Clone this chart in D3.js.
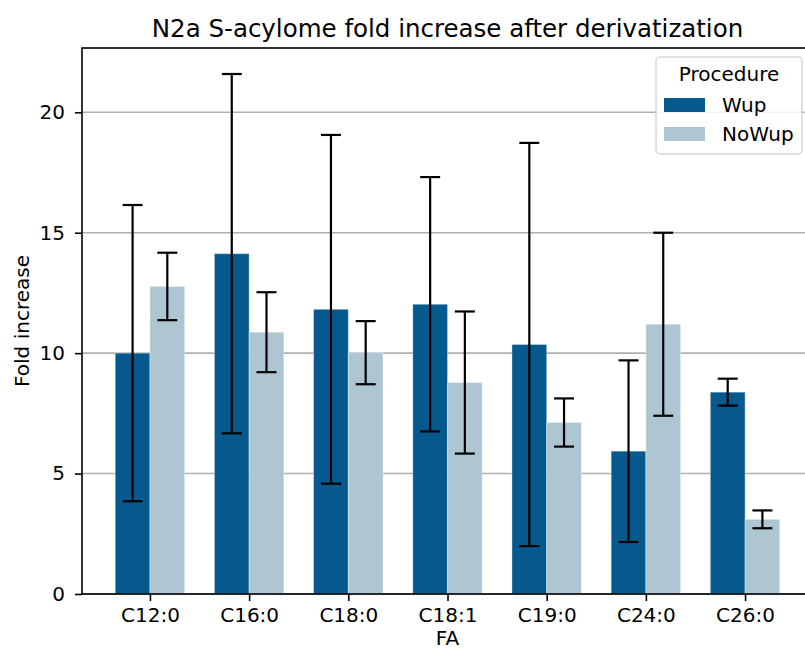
<!DOCTYPE html>
<html>
<head>
<meta charset="utf-8">
<script src="https://cdn.jsdelivr.net/npm/d3@7"></script>
<style>
  html, body { margin: 0; padding: 0; background: #ffffff; }
  svg { display: block; font-family: "DejaVu Sans", sans-serif; }
</style>
</head>
<body>
<svg id="chart" width="805" height="652"></svg>
<script>
// Fatty-acid categories and per-procedure means with symmetric error bars
const categories = ["C12:0", "C16:0", "C18:0", "C18:1", "C19:0", "C24:0", "C26:0"];
const wupValues   = [10.00, 14.13, 11.82, 12.03, 10.36, 5.93, 8.38];
const wupErrors   = [6.15, 7.46, 7.24, 5.28, 8.37, 3.77, 0.56];
const noWupValues = [12.77, 10.87, 10.02, 8.78, 7.12, 11.20, 3.10];
const noWupErrors = [1.40, 1.66, 1.31, 2.95, 1.00, 3.80, 0.37];
const seriesNames = ["Wup", "NoWup"];
const yTicks = [0, 5, 10, 15, 20];

const colors = { Wup: "#05598c", NoWup: "#aec6d1" };
const barWidth = 0.35;

const series = [
  { name: "Wup", values: wupValues, errors: wupErrors, offset: -barWidth },
  { name: "NoWup", values: noWupValues, errors: noWupErrors, offset: 0 }
];

const svg = d3.select("#chart");
const plotLeft = 82, plotRight = 813, plotTop = 48, plotBottom = 594;
const fontSize = "20px";

// x positions are category indices; bars sit either side of each tick
const n = categories.length;
const pad = (n - 1 + 2 * barWidth) * 0.05;
const x = d3.scaleLinear()
  .domain([-barWidth - pad, (n - 1) + barWidth + pad])
  .range([plotLeft, plotRight]);

const maxTop = d3.max(series.flatMap(s => s.values.map((v, i) => v + s.errors[i])));
const y = d3.scaleLinear()
  .domain([0, maxTop * 1.05])
  .range([plotBottom, plotTop]);

// horizontal gridlines behind the bars
svg.append("g")
  .selectAll("line")
  .data(yTicks)
  .join("line")
  .attr("x1", plotLeft).attr("x2", plotRight)
  .attr("y1", d => y(d)).attr("y2", d => y(d))
  .attr("stroke", "#b0b0b0")
  .attr("stroke-width", 1.6);

// bars
series.forEach(s => {
  svg.append("g")
    .selectAll("rect")
    .data(s.values)
    .join("rect")
    .attr("x", (d, i) => x(i + s.offset))
    .attr("width", (d, i) => x(i + s.offset + barWidth) - x(i + s.offset))
    .attr("y", d => y(d))
    .attr("height", d => y(0) - y(d))
    .attr("fill", colors[s.name])
    .attr("stroke", "#ffffff")
    .attr("stroke-opacity", 0.35)
    .attr("stroke-width", 1);
});

// error bars with caps
const cap = 10;
series.forEach(s => {
  const g = svg.append("g").attr("stroke", "#000").attr("stroke-width", 2.2);
  s.values.forEach((v, i) => {
    const cx = x(i + s.offset + barWidth / 2);
    const lo = y(v - s.errors[i]);
    const hi = y(v + s.errors[i]);
    g.append("line").attr("x1", cx).attr("x2", cx).attr("y1", lo).attr("y2", hi);
    g.append("line").attr("x1", cx - cap).attr("x2", cx + cap).attr("y1", lo).attr("y2", lo);
    g.append("line").attr("x1", cx - cap).attr("x2", cx + cap).attr("y1", hi).attr("y2", hi);
  });
});

// axes
const xAxis = d3.axisBottom(x)
  .tickValues(d3.range(n))
  .tickFormat(i => categories[i])
  .tickSize(7)
  .tickPadding(7);
const gx = svg.append("g").attr("transform", `translate(0,${plotBottom})`).call(xAxis);

const yAxis = d3.axisLeft(y)
  .tickValues(yTicks)
  .tickSize(7)
  .tickPadding(10);
const gy = svg.append("g").attr("transform", `translate(${plotLeft},0)`).call(yAxis);

[gx, gy].forEach(g => {
  g.select(".domain").remove();
  g.selectAll(".tick line").attr("stroke", "#000").attr("stroke-width", 1.6);
  g.selectAll(".tick text")
    .attr("fill", "#000")
    .style("font-family", "DejaVu Sans")
    .style("font-size", fontSize);
});

// spines around the plotting area
svg.append("rect")
  .attr("x", plotLeft).attr("y", plotTop)
  .attr("width", plotRight - plotLeft).attr("height", plotBottom - plotTop)
  .attr("fill", "none")
  .attr("stroke", "#000").attr("stroke-width", 1.6);

// title and axis labels
svg.append("text")
  .attr("x", (plotLeft + plotRight) / 2).attr("y", 37)
  .attr("text-anchor", "middle")
  .style("font-size", "24.5px")
  .text("N2a S-acylome fold increase after derivatization");

svg.append("text")
  .attr("x", (plotLeft + plotRight) / 2).attr("y", 645)
  .attr("text-anchor", "middle")
  .style("font-size", fontSize)
  .text("FA");

svg.append("text")
  .attr("transform", `translate(28.5,${(plotTop + plotBottom) / 2}) rotate(-90)`)
  .attr("text-anchor", "middle")
  .style("font-size", fontSize)
  .text("Fold increase");

// legend
const lg = svg.append("g").attr("transform", "translate(656,57)");
lg.append("rect")
  .attr("x", 0).attr("y", 0)
  .attr("width", 146).attr("height", 97)
  .attr("rx", 4)
  .attr("fill", "#ffffff").attr("fill-opacity", 0.85)
  .attr("stroke", "#d6d6d6").attr("stroke-width", 1.5);
lg.append("text")
  .attr("x", 73).attr("y", 24)
  .attr("text-anchor", "middle")
  .style("font-size", fontSize)
  .text("Procedure");
seriesNames.forEach((name, i) => {
  const row = lg.append("g").attr("transform", `translate(0,${41 + i * 29})`);
  row.append("rect")
    .attr("x", 8).attr("y", 0)
    .attr("width", 41).attr("height", 14)
    .attr("fill", colors[name]);
  row.append("text")
    .attr("x", 66).attr("y", 13.5)
    .style("font-size", fontSize)
    .text(name);
});
</script>
</body>
</html>
